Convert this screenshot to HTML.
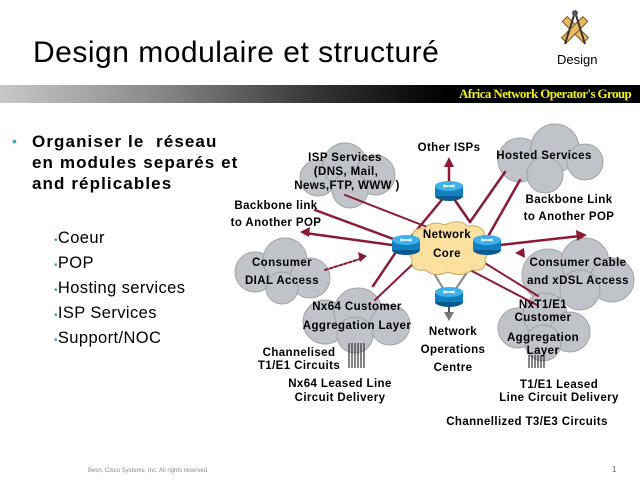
<!DOCTYPE html>
<html><head><meta charset="utf-8"><style>
html,body{margin:0;padding:0;background:#fff;}
body{width:640px;height:480px;position:relative;overflow:hidden;font-family:"Liberation Sans",sans-serif;}
.t{position:absolute;white-space:nowrap;}
</style></head><body>
<div class="t" style="left:33px;top:36px;font-size:30px;color:#000;letter-spacing:0.5px;">Design modulaire et structuré</div>
<div class="t" style="left:557px;top:52px;font-size:13px;">Design</div>
<svg style="position:absolute;left:555px;top:8px" width="40" height="42">
 <g transform="rotate(45 20 22)"><rect x="5" y="18" width="30" height="7" fill="#e8b860" stroke="#7a5020"/></g>
 <g transform="rotate(-45 20 22)"><rect x="5" y="18" width="30" height="7" fill="#e8b860" stroke="#7a5020"/></g>
 <line x1="20" y1="4" x2="10" y2="36" stroke="#333" stroke-width="2"/>
 <line x1="20" y1="4" x2="30" y2="36" stroke="#333" stroke-width="2"/>
 <circle cx="20" cy="5" r="3" fill="#556"/>
</svg>
<div style="position:absolute;left:0;top:85px;width:640px;height:18px;background:linear-gradient(to right,#c8c8c8 0%,#888 25%,#333 50%,#000 70%,#000 100%);"></div>
<div class="t" style="left:459px;top:86px;font-family:'Liberation Serif',serif;font-weight:bold;font-size:13px;color:#f0f020;letter-spacing:-0.6px;">Africa Network Operator's Group</div>

<div class="t" style="left:12px;top:133px;color:#3aa0b8;font-size:14px;">•</div>
<div class="t" style="left:32px;top:131px;font-size:17px;font-weight:bold;line-height:21px;letter-spacing:1.1px;">Organiser le&nbsp; réseau<br>en modules separés et<br>and réplicables</div>
<div class="t" style="left:54px;top:227px;font-size:16.5px;line-height:23px;letter-spacing:0.4px;"><span style="color:#3aa0b8;font-size:10px">•</span>Coeur<br><span style="color:#3aa0b8;font-size:10px">•</span>POP<br><span style="color:#3aa0b8;font-size:10px">•</span>Hosting services<br><span style="color:#3aa0b8;font-size:10px">•</span>ISP Services<br><span style="color:#3aa0b8;font-size:10px">•</span>Support/NOC</div>

<svg style="position:absolute;left:0;top:0" width="640" height="480" font-family="Liberation Sans, sans-serif" font-weight="bold" font-size="11.5" letter-spacing="0.4">
<defs>
 <g id="router"><ellipse cx="0" cy="6" rx="14" ry="5" fill="#0a5a90"/><rect x="-14" y="-4" width="28" height="10" fill="#1080c0"/><ellipse cx="0" cy="-4" rx="14" ry="5" fill="#40b0e8"/><path d="M-6 -5 L6 -3 M-6 -3 L6 -5" stroke="#fff" stroke-width="1"/></g>
</defs>
<g fill="#c0c4c8" stroke="#a0a4a8">
 <g><circle cx="318" cy="178" r="18"/><circle cx="345" cy="165" r="22"/><circle cx="375" cy="175" r="20"/><circle cx="350" cy="190" r="18"/></g>
 <g><circle cx="520" cy="160" r="22"/><circle cx="555" cy="148" r="24"/><circle cx="585" cy="162" r="18"/><circle cx="545" cy="175" r="18"/></g>
 <g><circle cx="255" cy="272" r="20"/><circle cx="285" cy="260" r="22"/><circle cx="310" cy="278" r="20"/><circle cx="282" cy="288" r="16"/></g>
 <g><circle cx="548" cy="275" r="26"/><circle cx="585" cy="262" r="24"/><circle cx="612" cy="280" r="22"/><circle cx="580" cy="290" r="20"/></g>
 <g><circle cx="325" cy="322" r="22"/><circle cx="358" cy="312" r="24"/><circle cx="390" cy="325" r="20"/><circle cx="355" cy="335" r="18"/></g>
 <g><circle cx="518" cy="328" r="20"/><circle cx="545" cy="315" r="22"/><circle cx="570" cy="332" r="20"/><circle cx="543" cy="343" r="18"/></g>
</g>
<g fill="none" stroke-linecap="round">
 <line x1="315" y1="210" x2="404" y2="243" stroke="#8b1a35" stroke-width="2.5"/>
 <line x1="345" y1="195" x2="440" y2="232" stroke="#8b1a35" stroke-width="2"/>
 <line x1="406" y1="243" x2="445" y2="196" stroke="#8b1a35" stroke-width="2.5"/>
 <line x1="452" y1="196" x2="470" y2="222" stroke="#8b1a35" stroke-width="2.5"/>
 <line x1="470" y1="222" x2="505" y2="172" stroke="#8b1a35" stroke-width="2.5"/>
 <line x1="486" y1="240" x2="520" y2="180" stroke="#8b1a35" stroke-width="2.5"/>
 <line x1="449" y1="182" x2="449" y2="165" stroke="#8b1a35" stroke-width="2.5"/>
 <line x1="500" y1="245" x2="580" y2="236" stroke="#8b1a35" stroke-width="2.5"/>
 <line x1="392" y1="245" x2="305" y2="233" stroke="#8b1a35" stroke-width="2.5"/>
 <line x1="480" y1="260" x2="538" y2="296" stroke="#8b1a35" stroke-width="2"/>
 <line x1="470" y1="270" x2="537" y2="305" stroke="#8b1a35" stroke-width="2"/>
 <line x1="396" y1="252" x2="373" y2="286" stroke="#8b1a35" stroke-width="2.5"/>
 <line x1="415" y1="262" x2="375" y2="300" stroke="#8b1a35" stroke-width="2"/>
 <line x1="325" y1="270" x2="360" y2="259" stroke="#8b1a35" stroke-width="2" stroke-dasharray="3 2"/>
 <line x1="432" y1="270" x2="444" y2="290" stroke="#888" stroke-width="2"/>
 <line x1="470" y1="268" x2="455" y2="290" stroke="#888" stroke-width="2"/>
 <line x1="449" y1="303" x2="449" y2="315" stroke="#555" stroke-width="2"/>
</g>
<g fill="#8b1a35">
 <polygon points="449,157 444,167 454,167"/>
 <polygon points="587,235 576,230 577,241"/>
 <polygon points="300,232 310,227 309,237"/>
 <polygon points="367,256 358,252 360,262"/>
 <polygon points="515,253 524,248 525,258"/>
</g>
<polygon points="449,321 444,312 454,312" fill="#777"/>
<path d="M413 240 Q410 228 425 228 Q432 220 445 225 Q458 218 468 226 Q485 224 485 238 Q495 248 485 258 Q488 272 472 270 Q462 278 448 272 Q435 278 425 270 Q410 272 412 258 Q402 250 413 240Z" fill="#fbe0a0" stroke="#c8a860"/>
<use href="#router" x="449" y="190"/>
<use href="#router" x="406" y="244"/>
<use href="#router" x="487" y="244"/>
<use href="#router" x="449" y="296"/>
<g stroke="#333" stroke-width="1.2">
 <line x1="349" y1="343" x2="349" y2="368"/><line x1="352" y1="343" x2="352" y2="368"/><line x1="355" y1="343" x2="355" y2="368"/><line x1="358" y1="343" x2="358" y2="368"/><line x1="361" y1="343" x2="361" y2="368"/><line x1="364" y1="343" x2="364" y2="368"/>
 <line x1="529" y1="355" x2="529" y2="368"/><line x1="532" y1="355" x2="532" y2="368"/><line x1="535" y1="355" x2="535" y2="368"/><line x1="538" y1="355" x2="538" y2="368"/><line x1="541" y1="355" x2="541" y2="368"/><line x1="544" y1="355" x2="544" y2="368"/>
</g>
<g fill="#000" text-anchor="middle">
 <text x="449" y="151">Other ISPs</text>
 <text x="345" y="161">ISP Services</text>
 <text x="346" y="175">(DNS, Mail,</text>
 <text x="347" y="189">News,FTP, WWW )</text>
 <text x="544" y="159">Hosted Services</text>
 <text x="276" y="209">Backbone link</text>
 <text x="276" y="226">to Another POP</text>
 <text x="569" y="203">Backbone Link</text>
 <text x="569" y="220">to Another POP</text>
 <text x="447" y="238">Network</text>
 <text x="447" y="257">Core</text>
 <text x="282" y="266">Consumer</text>
 <text x="282" y="284">DIAL Access</text>
 <text x="578" y="266">Consumer Cable</text>
 <text x="578" y="284">and xDSL Access</text>
 <text x="357" y="310">Nx64 Customer</text>
 <text x="357" y="329">Aggregation Layer</text>
 <text x="543" y="308">NxT1/E1</text>
 <text x="543" y="321">Customer</text>
 <text x="543" y="341">Aggregation</text>
 <text x="543" y="354">Layer</text>
 <text x="453" y="335">Network</text>
 <text x="453" y="353">Operations</text>
 <text x="453" y="371">Centre</text>
 <text x="299" y="356">Channelised</text>
 <text x="299" y="369">T1/E1 Circuits</text>
 <text x="340" y="387">Nx64 Leased Line</text>
 <text x="340" y="401">Circuit Delivery</text>
 <text x="559" y="388">T1/E1 Leased</text>
 <text x="559" y="401">Line Circuit Delivery</text>
 <text x="527" y="425">Channellized T3/E3 Circuits</text>
</g>
<text x="88" y="472" font-size="6" font-weight="normal" letter-spacing="0" fill="#888">Besn, Cisco Systems, Inc. All rights reserved.</text>
<text x="612" y="472" font-size="8" font-weight="normal" letter-spacing="0" fill="#666">1</text>
</svg>
</body></html>
